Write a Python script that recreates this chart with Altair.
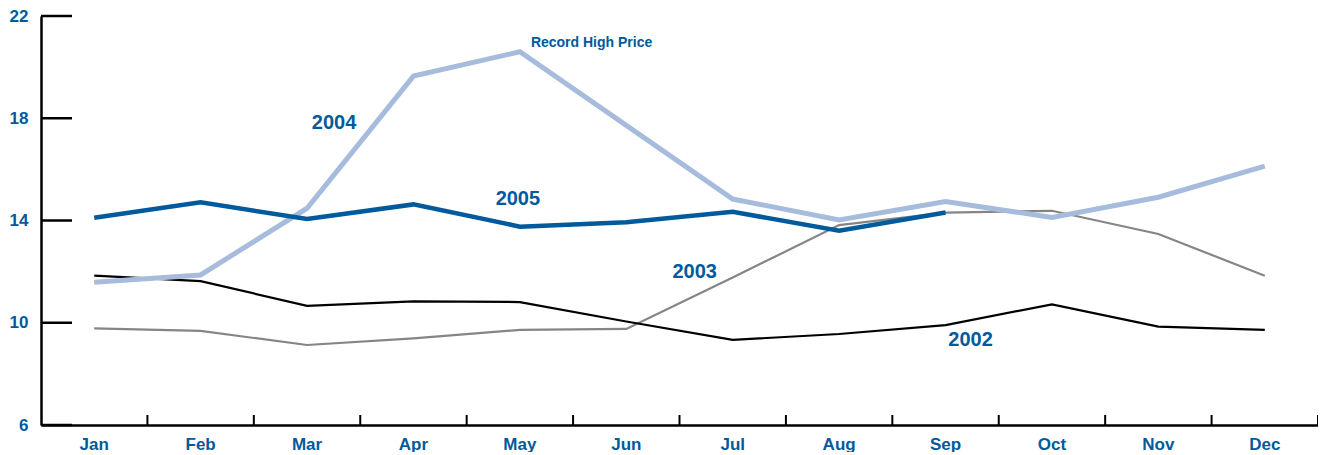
import altair as alt
import pandas as pd

months = ["Jan", "Feb", "Mar", "Apr", "May", "Jun", "Jul", "Aug", "Sep", "Oct", "Nov", "Dec"]
s2002 = [11.84, 11.63, 10.66, 10.84, 10.81, 10.05, 9.33, 9.56, 9.91, 10.72, 9.85, 9.72]
s2003 = [9.78, 9.68, 9.13, 9.39, 9.72, 9.76, 11.77, 13.82, 14.31, 14.38, 13.47, 11.84]
s2004 = [11.58, 11.87, 14.48, 19.65, 20.60, 17.72, 14.84, 14.02, 14.74, 14.12, 14.91, 16.13]
s2005 = [14.11, 14.71, 14.06, 14.63, 13.76, 13.93, 14.34, 13.60, 14.31]
y_ticks = [6, 10, 14, 18, 22]

ann_text = ["2004", "2005", "2003", "2002", "Record High Price"]
ann_month = ["Mar", "May", "Jul", "Sep", "May"]
ann_value = [17.81, 14.84, 11.99, 9.33, 20.94]

W, H = 1277, 409
BLUE = "#005A9C"
FONT = "Liberation Sans"

x_axis = alt.Axis(title=None, labelAngle=0, ticks=False, grid=False, domainColor="black",
                  domainWidth=2.5, labelColor=BLUE, labelFont=FONT, labelFontSize=17,
                  labelFontWeight="bold", labelPadding=11)
x_scale = alt.Scale(type="band", domain=months, paddingInner=0, paddingOuter=0)
x_enc = alt.X("month:N", sort=months, scale=x_scale, axis=x_axis)
y_enc = alt.Y(
    "value:Q",
    scale=alt.Scale(domain=[6, 22], nice=False, zero=False),
    axis=alt.Axis(values=y_ticks, title=None, ticks=False, grid=False, domainColor="black",
                  domainWidth=2.5, labelColor=BLUE, labelFont=FONT, labelFontSize=17,
                  labelFontWeight="bold", labelPadding=13),
)

def series(vals, color, width):
    df = pd.DataFrame({"month": months[:len(vals)], "value": vals})
    return alt.Chart(df).mark_line(color=color, strokeWidth=width, strokeJoin="miter").encode(x=x_enc, y=y_enc)

layers = [
    series(s2003, "#858585", 2.2),
    series(s2002, "#000000", 2.2),
    series(s2004, "#A7BCDC", 5),
    series(s2005, BLUE, 4.5),
]

ytick_df = pd.DataFrame({"value": y_ticks})
layers.append(alt.Chart(ytick_df).mark_rule(color="black", strokeWidth=2.5).encode(
    y=y_enc, x=alt.value(0), x2=alt.value(31)))

xtick_df = pd.DataFrame({"month": months})
layers.append(alt.Chart(xtick_df).mark_rule(color="black", strokeWidth=2).encode(
    x=alt.X("month:N", sort=months, bandPosition=1, scale=x_scale, axis=x_axis),
    y=alt.value(H), y2=alt.value(H - 10)))

ann_dx = [27, -2, -38, 25, 11]
ann_size = [20, 20, 20, 20, 14]
ann_align = ["center", "center", "center", "center", "left"]
for t, m, v, dx, sz, al in zip(ann_text, ann_month, ann_value, ann_dx, ann_size, ann_align):
    d = pd.DataFrame({"month": [m], "value": [v], "label": [t]})
    layers.append(alt.Chart(d).mark_text(
        color=BLUE, font=FONT, fontWeight="bold", fontSize=sz, dx=dx,
        align=al, baseline="middle").encode(x=x_enc, y=y_enc, text="label:N"))

chart = alt.layer(*layers).properties(
    width=W, height=H,
    padding={"left": 33, "top": 8, "right": 0, "bottom": 27},
    autosize=alt.AutoSizeParams(type="none"),
).configure_view(stroke=None)

chart.save("out.html", embed_options={"renderer": "svg", "actions": False})
